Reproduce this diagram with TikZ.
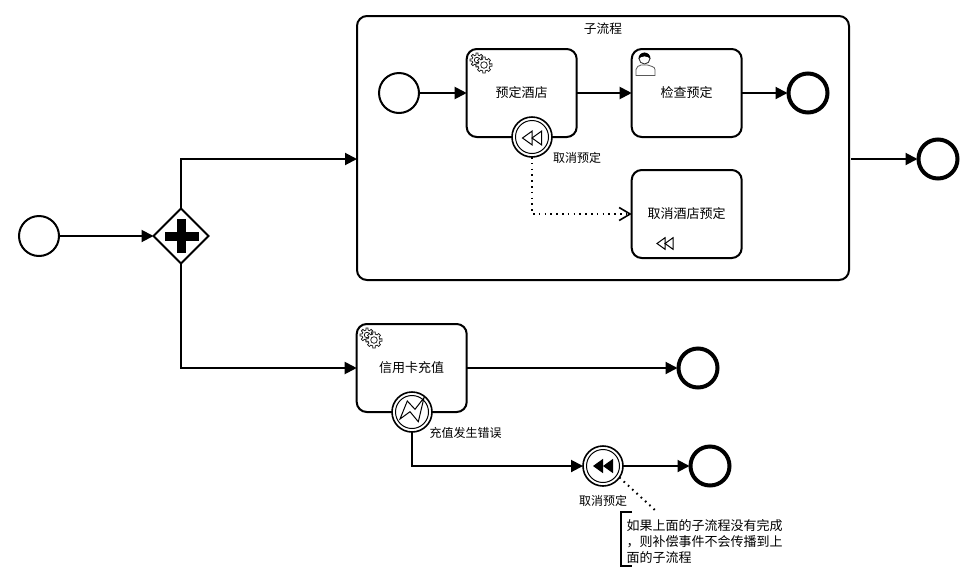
\documentclass[tikz,border=0pt]{standalone}
\usepackage{fontspec}
\setmainfont{Noto Sans CJK SC}
\usetikzlibrary{arrows.meta,shapes.geometric,calc}

% A small gear: toothed outline and a hub circle
\newcommand{\cogwheel}[3]{%
  \filldraw[draw=black!90,fill=white,line width=0.75pt]
    (#1+#3,#2)
    \foreach \a in {0,45,...,315} {
      -- ({#1+#3*cos(\a-13)},{#2+#3*sin(\a-13)})
      -- ({#1+(#3+2)*cos(\a-9)},{#2+(#3+2)*sin(\a-9)})
      -- ({#1+(#3+2)*cos(\a+9)},{#2+(#3+2)*sin(\a+9)})
      -- ({#1+#3*cos(\a+13)},{#2+#3*sin(\a+13)})
    } -- cycle;
  \draw[black!90,line width=0.75pt] (#1,#2) circle[radius=#3*0.55];
}
% Two overlapping gears: the service-task marker
\newcommand{\servicemark}[2]{%
  \cogwheel{#1}{#2}{5}
  \cogwheel{#1+7}{#2+5}{6}
}
% Two triangles pointing left, centred on a point
\newcommand{\rewind}[4]{%
  \path[#4] (#1-#3,#2) -- (#1,#2-#3*0.72) -- (#1,#2+#3*0.72) -- cycle;
  \path[#4] (#1,#2) -- (#1+#3,#2-#3*0.72) -- (#1+#3,#2+#3*0.72) -- cycle;
}

\tikzset{
  every node/.style={font=\fontsize{12}{14}\selectfont,text=black},
  flow/.style={line width=2pt,-{Triangle[length=12pt,width=12pt]}},
  taskbox/.style={draw,line width=2pt,rounded corners=10pt,fill=white,
    minimum width=110pt,minimum height=88pt,inner sep=0pt,outer sep=0pt,
    font=\fontsize{13}{15}\selectfont},
  startev/.style={circle,draw,line width=2pt,fill=white,minimum size=40pt,inner sep=0pt,outer sep=0pt},
  endev/.style={circle,draw,line width=4pt,fill=white,minimum size=39pt,inner sep=0pt,outer sep=1pt},
  midev/.style={circle,draw,line width=1.6pt,fill=white,minimum size=40pt,inner sep=0pt,outer sep=0pt},
  tag/.style={inner sep=0pt,outer sep=0pt},
  dotline/.style={line width=2pt,dash pattern=on 1.6pt off 4.2pt},
}

\begin{document}
\begin{tikzpicture}[x=1pt,y=-1pt]
\useasboundingbox (0,0) rectangle (972,582);
\fill[white] (0,0) rectangle (972,582);

% Expanded subprocess
\node[draw,line width=2pt,rounded corners=10pt,minimum width=492pt,minimum height=264pt,
      inner sep=0pt,outer sep=0pt] (sub) at (603,148) {};
\node[tag,font=\fontsize{12.7}{15}\selectfont] (subtitle) at (603,29) {子流程};

% Activities
\node[taskbox] (book)   at (521.7,93)  {\raisebox{1pt}{预定酒店}};
\node[taskbox] (check)  at (686.7,93)  {\raisebox{1pt}{检查预定}};
\node[taskbox] (cancel) at (686.7,214) {\raisebox{1pt}{取消酒店预定}};
\node[taskbox] (charge) at (411.7,368) {\raisebox{1pt}{信用卡充值}};

% Events and gateway
\node[startev] (mainstart) at (39,236) {};
\node[diamond,draw,line width=2pt,fill=white,minimum width=55pt,minimum height=55pt,
      inner sep=0pt,outer sep=0pt] (gw) at (181,236) {};
\node[startev] (substart) at (399,93) {};
\node[endev] (subend)  at (808,93)  {};
\node[endev] (mainend) at (938,159) {};
\node[endev] (chargeend) at (698,368) {};
\node[endev] (lowend)  at (710,466) {};
\node[midev] (compb)  at (532,137) {};
\node[midev] (errb)   at (412,412) {};
\node[midev] (throwc) at (603,466) {};
\draw[line width=1pt] (compb)  circle[radius=16.5];
\draw[line width=1pt] (errb)   circle[radius=16.5];
\draw[line width=1pt] (throwc) circle[radius=16.5];

% Parallel gateway cross
\fill (176.5,219) rectangle (185.5,253);
\fill (164.5,231.5) rectangle (198.5,240.5);

% Sequence flows
\draw[flow] (mainstart) -- (gw);
\draw[flow] (gw.north) |- (sub.west |- mainend);
\draw[flow] (gw.south) |- (charge.west);
\draw[flow] (substart) -- (book);
\draw[flow] (book) -- (check);
\draw[flow] (check) -- (subend);
\draw[flow] ($(sub.east |- mainend)+(2,0)$) -- (mainend);
\draw[flow] (charge) -- (chargeend);
\draw[flow] (errb.south) |- (throwc.west);
\draw[flow] (throwc) -- (lowend);

% Compensation association
\draw[dotline,-{Straight Barb[length=11pt,width=13pt,line width=1.6pt]}]
  (compb.south) |- (cancel.west);

% Markers inside events and activities
\rewind{532}{138}{9.5}{draw,line width=1pt}
\rewind{603}{466}{10}{fill=black}
\rewind{665}{243.5}{8}{draw,line width=1pt}
\draw[line width=1pt,line join=miter] (400,419) -- (407.3,401) -- (415,409.3) -- (424,397.7)
  -- (418.3,421.7) -- (410,411.7) -- cycle;

% Service markers
\servicemark{477}{60}
\servicemark{367}{335}

% User marker
\draw[black!65,line width=0.8pt,fill=white] (636,75.5) -- (636,69.5) .. controls (636,66.5) and (639,66) .. (641,65)
  -- (647.5,65) .. controls (650,66) and (655,66.5) .. (655,69.5) -- (655,75.5) -- cycle;
\draw[black!80,line width=0.9pt,fill=white] (644.5,58.5) circle[radius=5.5];
\fill[black] (638.6,59) .. controls (638,50.5) and (651,50.5) .. (650.4,59)
  .. controls (648,55.5) and (641,55.5) .. (638.6,59) -- cycle;

% Labels
\node[tag] (lblcomp)  at (577,158) {取消预定};
\node[tag] (lblerr)   at (465.5,433) {充值发生错误};
\node[tag] (lblthrow) at (603,500.5) {取消预定};

% Text annotation
\coordinate (noteTL) at (632,511.5);
\coordinate (noteT)  at (621,511.5);
\coordinate (noteB)  at (621,566);
\coordinate (noteBR) at (632,566);
\coordinate (noteLink) at (656,511);
\draw[line width=2pt] (noteTL) -- (noteT) -- (noteB) -- (noteBR);
\draw[dotline] (throwc.-35) -- (noteLink);
\node[tag,anchor=north west,align=left,font=\fontsize{13}{16}\selectfont] (note) at (626.5,519)
  {如果上面的子流程没有完成\\，则补偿事件不会传播到上\\面的子流程};
\end{tikzpicture}
\end{document}
